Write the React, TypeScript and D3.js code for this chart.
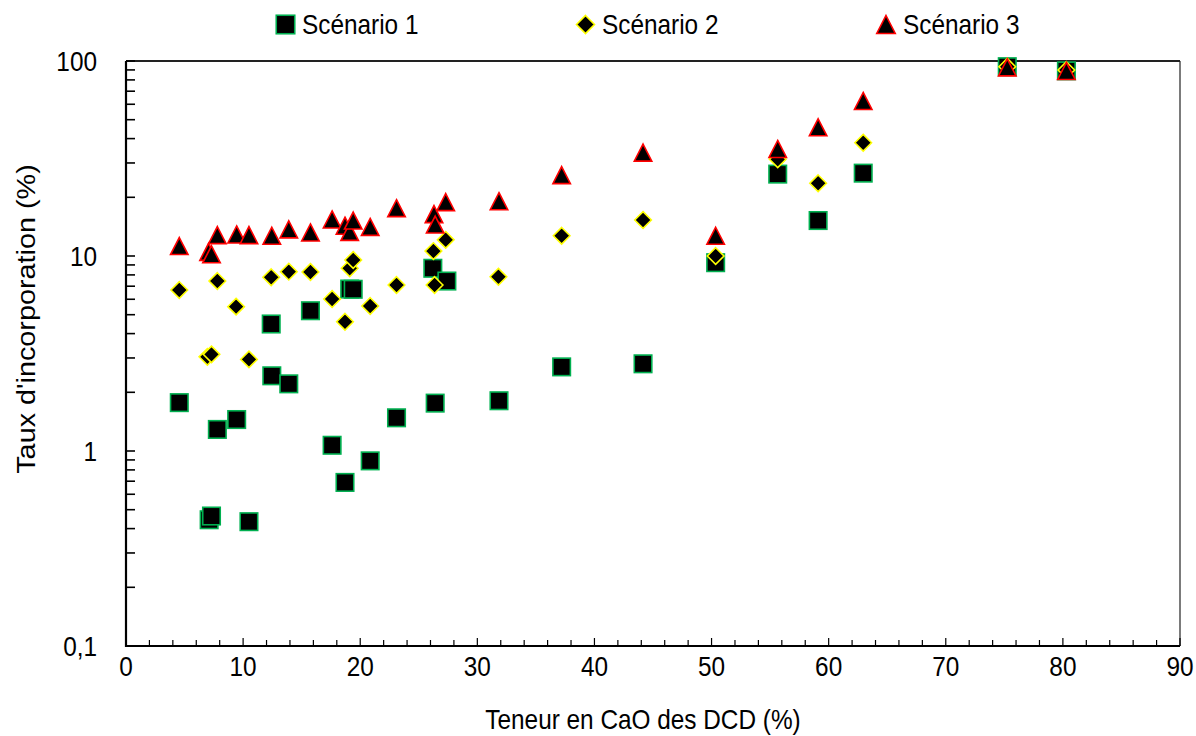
import React from "react";
import * as d3 from "d3";

// ---- data ----
const s1X = [4.55, 7.1, 7.3, 7.8, 9.45, 10.5, 12.4, 12.45, 13.9, 15.75, 17.6, 18.7, 19.1, 19.4, 20.85, 23.1, 26.2, 26.4, 27.4, 31.85, 37.2, 44.15, 50.35, 55.65, 59.1, 62.95, 75.25, 80.3];
const s1Y = [1.77, 0.444, 0.464, 1.29, 1.45, 0.434, 4.48, 2.43, 2.21, 5.24, 1.07, 0.69, 6.77, 6.75, 0.89, 1.48, 8.65, 1.76, 7.44, 1.81, 2.7, 2.8, 9.24, 26.3, 15.2, 26.6, 93.5, 89];

const s2X = [4.55, 6.95, 7.3, 7.8, 9.4, 10.5, 12.4, 13.9, 15.75, 17.6, 18.7, 19.1, 19.4, 20.85, 23.1, 26.25, 26.35, 27.3, 31.8, 37.2, 44.15, 50.35, 55.65, 59.1, 62.95, 75.25, 80.3];
const s2Y = [6.69, 3.04, 3.13, 7.44, 5.5, 2.95, 7.78, 8.31, 8.28, 6.02, 4.6, 8.65, 9.54, 5.54, 7.1, 10.6, 7.1, 12.1, 7.83, 12.7, 15.3, 10.0, 31.3, 23.6, 38.1, 93.5, 89.9];

const s3X = [4.55, 7.05, 7.3, 7.8, 9.45, 10.5, 12.45, 13.9, 15.75, 17.6, 18.7, 19.1, 19.4, 20.85, 23.1, 26.3, 26.4, 27.3, 31.85, 37.2, 44.15, 50.35, 55.65, 59.1, 62.95, 75.25, 80.3];
const s3Y = [11.25, 10.5, 10.2, 12.8, 12.9, 12.8, 12.7, 13.7, 13.2, 15.4, 14.3, 13.3, 15.2, 14.1, 17.6, 16.4, 14.5, 18.9, 19.1, 26.0, 33.9, 12.7, 35.4, 45.7, 62.4, 92.8, 88.9];

const seriesNames = ["Scénario 1", "Scénario 2", "Scénario 3"];
const xTickValues = [0, 10, 20, 30, 40, 50, 60, 70, 80, 90];
const yTickValues = [0.1, 1, 10, 100];
const yTickLabels = ["0,1", "1", "10", "100"];
const xTitle = "Teneur en CaO des DCD (%)";
const yTitle = "Taux d'incorporation (%)";

// ---- layout ----
const W = 1196, H = 736;
const L = 126, R = 1180, T = 61, B = 646;
const FONT = "'Liberation Sans', Arial, sans-serif";
const SX = 0.87; // horizontal squeeze of glyphs
const FS = 28;

const x = d3.scaleLinear().domain([0, 90]).range([L, R]);
const y = d3.scaleLog().domain([0.1, 100]).range([B, T]);

const GREEN = "#00B050";
const YELLOW = "#FFFF00";
const RED = "#FF0000";

function Txt({ x, y, anchor = "start", children, size = FS }: any) {
  return (
    <text transform={`translate(${x},${y}) scale(${SX},1)`} fontSize={size} textAnchor={anchor} fill="#000">
      {children}
    </text>
  );
}

function Square({ cx, cy, s = 17.5 }: { cx: number; cy: number; s?: number }) {
  return <rect x={cx - s / 2} y={cy - s / 2} width={s} height={s} fill="#000" stroke={GREEN} strokeWidth={1.6} />;
}
function Diamond({ cx, cy, r = 8.3 }: { cx: number; cy: number; r?: number }) {
  const p = `M${cx},${cy - r}L${cx + r},${cy}L${cx},${cy + r}L${cx - r},${cy}Z`;
  return <path d={p} fill="#000" stroke={YELLOW} strokeWidth={1.6} />;
}
function Triangle({ cx, cy, w = 17.5, h = 17 }: { cx: number; cy: number; w?: number; h?: number }) {
  const p = `M${cx},${cy - h / 2}L${cx + w / 2},${cy + h / 2}L${cx - w / 2},${cy + h / 2}Z`;
  return <path d={p} fill="#000" stroke={RED} strokeWidth={1.6} strokeLinejoin="miter" />;
}

export default function App() {
  const xMinor = d3.range(0, 91, 2);
  const yMinor: number[] = [];
  [0.1, 1, 10].forEach((d) => {
    for (let k = 1; k <= 9; k++) yMinor.push(d * k);
  });
  yMinor.push(100);

  return (
    <svg width={W} height={H} style={{ position: "absolute", left: 0, top: 0, background: "#fff" }} fontFamily={FONT}>
      <rect x={0} y={0} width={W} height={H} fill="#fff" />
      {/* plot frame */}
      <line x1={L} y1={T} x2={R} y2={T} stroke="#222" strokeWidth={2} />
      <line x1={R} y1={T} x2={R} y2={B} stroke="#222" strokeWidth={1.2} />
      {/* x ticks */}
      {xMinor.map((v) => (
        <line key={"xt" + v} x1={x(v)} x2={x(v)} y1={B} y2={B - (v % 10 === 0 ? 8 : 6)} stroke="#000" strokeWidth={1.2} />
      ))}
      {/* y ticks */}
      {yMinor.map((v, i) => (
        <line key={"yt" + i} x1={L} x2={L + 9} y1={y(v)} y2={y(v)} stroke="#000" strokeWidth={1.6} />
      ))}
      {/* axes */}
      <line x1={L} y1={T} x2={L} y2={B + 1} stroke="#000" strokeWidth={2.2} />
      <line x1={L - 1} y1={B} x2={R} y2={B} stroke="#000" strokeWidth={2.2} />
      {/* tick labels */}
      {xTickValues.map((v) => (
        <Txt key={"xl" + v} x={x(v)} y={676} anchor="middle">{v}</Txt>
      ))}
      {yTickValues.map((v, i) => (
        <Txt key={"yl" + v} x={97} y={y(v) + 10} anchor="end">{yTickLabels[i]}</Txt>
      ))}
      {/* titles */}
      <Txt x={643} y={729} anchor="middle">{xTitle}</Txt>
      <text transform={`translate(35,319) scale(${SX},1) rotate(-90)`} fontSize={28.8} textAnchor="middle" fill="#000">{yTitle}</text>
      {/* data */}
      <g>{s1X.map((v, i) => <Square key={"a" + i} cx={x(v)} cy={y(s1Y[i])} />)}</g>
      <g>{s2X.map((v, i) => <Diamond key={"b" + i} cx={x(v)} cy={y(s2Y[i])} />)}</g>
      <g>{s3X.map((v, i) => <Triangle key={"c" + i} cx={x(v)} cy={y(s3Y[i])} />)}</g>
      {/* legend */}
      <Square cx={285.5} cy={24.5} s={18.5} />
      <Txt x={302} y={34}>{seriesNames[0]}</Txt>
      <Diamond cx={585.5} cy={24.5} r={9} />
      <Txt x={602} y={34}>{seriesNames[1]}</Txt>
      <Triangle cx={886} cy={24.5} w={18.5} h={18} />
      <Txt x={903} y={34}>{seriesNames[2]}</Txt>
    </svg>
  );
}
